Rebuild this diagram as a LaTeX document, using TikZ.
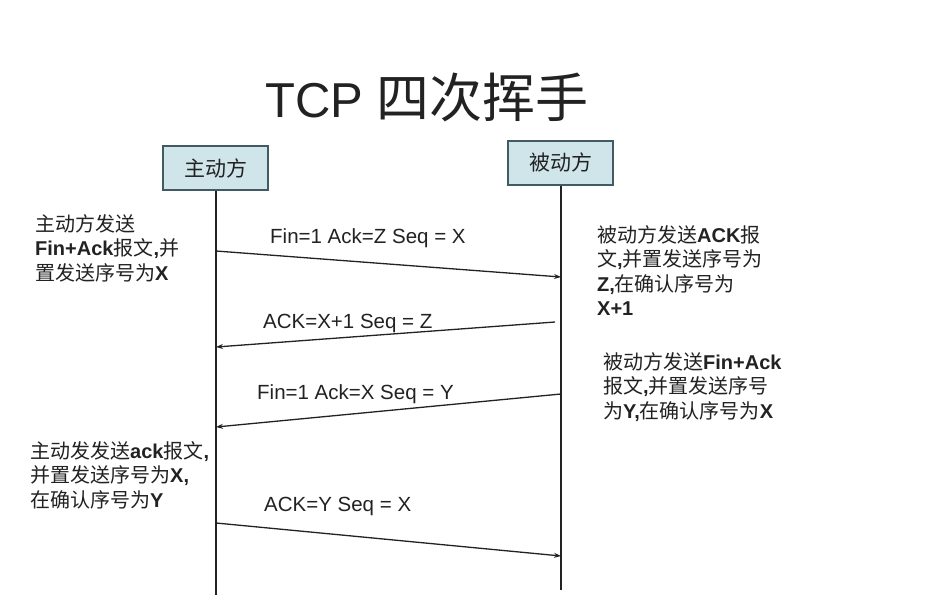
\documentclass[tikz,border=0pt]{standalone}
\usepackage{fontspec}
\setmainfont{Noto Sans CJK SC}
\newfontfamily\lat{Liberation Sans}
\usetikzlibrary{arrows.meta}
\definecolor{boxfill}{HTML}{CFE5EA}
\definecolor{boxline}{HTML}{415A63}
\definecolor{ink}{HTML}{222222}
\tikzset{
  actor/.style={draw=boxline, line width=2pt, fill=boxfill, minimum width=105pt, minimum height=44pt, inner sep=0pt, font=\fontsize{21}{21}\selectfont, text=ink},
  life/.style={draw=ink, line width=1.6pt},
  msg/.style={draw=ink, line width=1.3pt, -{Stealth[length=7pt,width=5pt]}},
  msglabel/.style={anchor=base west, inner sep=0pt, font=\lat\fontsize{20.5}{20.5}\selectfont, text=ink},
  note/.style={anchor=north west, inner sep=0pt, align=left, font=\fontsize{20}{24.5}\selectfont, text=ink},
}
\begin{document}
\begin{tikzpicture}[x=1pt,y=-1pt]
\useasboundingbox[fill=white] (0,0) rectangle (930,605);
% title
\node[anchor=base west, inner sep=0pt, text=ink] (title) at (265,117)
  {{\lat\fontsize{49}{49}\selectfont TCP }{\fontsize{53}{53}\selectfont 四次挥手}};
% actors
\node[actor] (A) at (215.5,168) {主动方};
\node[actor] (B) at (560.5,162.5) {被动方};
\coordinate (Aend) at (216,595);
\coordinate (Bend) at (561,590);
\draw[life] (A.south -| Aend) -- (Aend);
\draw[life] (B.south -| Bend) -- (Bend);
% message endpoints
\coordinate (m1s) at (216,251);
\coordinate (m1e) at (561,277);
\coordinate (m2s) at (555,322);
\coordinate (m2e) at (216,347);
\coordinate (m3s) at (561,394);
\coordinate (m3e) at (216,427);
\coordinate (m4s) at (216,523);
\coordinate (m4e) at (561,556);
\draw[msg] (m1s) -- (m1e);
\draw[msg] (m2s) -- (m2e);
\draw[msg] (m3s) -- (m3e);
\draw[msg] (m4s) -- (m4e);
% message labels
\node[msglabel] (l1) at (270,243) {Fin=1 Ack=Z Seq = X};
\node[msglabel] (l2) at (263,328) {ACK=X+1 Seq = Z};
\node[msglabel] (l3) at (257,399) {Fin=1 Ack=X Seq = Y};
\node[msglabel] (l4) at (264,511) {ACK=Y Seq = X};
% notes
\node[note] (n1) at (35,214) {主动方发送\\{\lat\bfseries Fin+Ack}报文{\lat\bfseries ,}并\\置发送序号为{\lat\bfseries X}};
\node[note] (n2) at (597,225) {被动方发送{\lat\bfseries ACK}报\\文{\lat\bfseries ,}并置发送序号为\\{\lat\bfseries Z,}在确认序号为\\{\lat\bfseries X+1}};
\node[note] (n3) at (603,352) {被动方发送{\lat\bfseries Fin+Ack}\\报文{\lat\bfseries ,}并置发送序号\\为{\lat\bfseries Y,}在确认序号为{\lat\bfseries X}};
\node[note] (n4) at (30,441) {主动发发送{\lat\bfseries ack}报文{\lat\bfseries ,}\\并置发送序号为{\lat\bfseries X,}\\在确认序号为{\lat\bfseries Y}};
\end{tikzpicture}
\end{document}
